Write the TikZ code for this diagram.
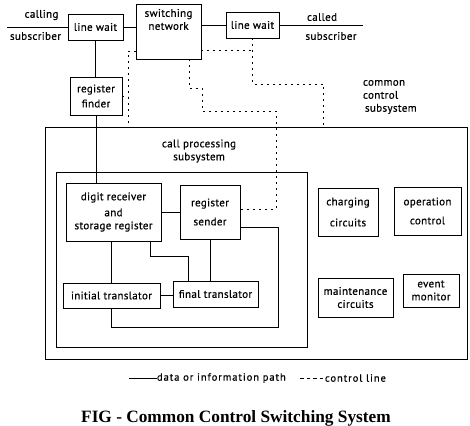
\documentclass[tikz,border=0pt]{standalone}
\usepackage{fontspec}
\setmainfont{PT Sans}
\newfontfamily\dfam{PT Sans}[FakeBold=0.6, LetterSpace=3]
\newfontfamily\lfam{PT Sans}[FakeBold=0.6, LetterSpace=9]
\newfontfamily\titlefont{Liberation Serif}
\usetikzlibrary{
  calc,
  positioning,
}
\newcommand{\dfont}{\dfam\fontsize{11}{13}\selectfont}
\newcommand{\lfont}{\lfam\fontsize{10.5}{12}\selectfont}
\tikzset{
  n/.style={
    draw, line width=0.9pt, inner sep=0pt, outer sep=0pt,
    align=center, font=\dfont,
  },
  t/.style={inner sep=0pt, outer sep=0pt, font=\dfont},
  ctl/.style={dash pattern=on 2pt off 4pt, line width=0.9pt},
}

\begin{document}
\begin{tikzpicture}[x=1pt, y=-1pt, line width=0.8pt]
  \useasboundingbox (0,0) rectangle (470,425);
  % subscriber lines and switching network
  \node[n, minimum width=55, minimum height=26](lwA) at (95.5,27){line wait};
  \node[n, minimum width=65, minimum height=55](SN) at (168.5,31.5){};
  \node[t, align=center, below=5pt of SN.north](SNt){switching\\network};
  \node[n, minimum width=53, minimum height=26](lwB) at (252.5,25){line wait};
  \node[t](cgA) at (41.5,15){calling};
  \node[t](cgB) at (35.5,36){subscriber};
  \node[t](cdA) at (322,17){called};
  \node[t](cdB) at (331,36){subscriber};
  \coordinate (inA) at (7,27);
  \coordinate (inB) at (363,25);
  \node[n, minimum width=52, minimum height=38](RF) at (96,96){register\\[2pt]finder};
  %% common control
  \node[n, minimum width=422, minimum height=232](CCS) at (256,243){};
  \node[n, minimum width=251, minimum height=175](CPS) at (181.5,259.5){};
  \node[t, anchor=west, align=left](CCSt) at (363,97){common\\control\\\hspace{2pt}subsystem};
  \node[t, align=center](CPSt) at (199,151){call processing\\subsystem};
  \node[n, minimum width=95, minimum height=58](DR) at (113.5,212)
    {digit receiver\\[3pt]and\\storage register};
  \node[n, minimum width=60, minimum height=54](RS) at (210,212){register\\[6pt]sender};
  \node[n, minimum width=97, minimum height=25](IT) at (111.5,295.5){initial translator};
  \node[n, minimum width=85, minimum height=26](FT) at (215.5,294){final translator};
  \node[n, minimum width=60, minimum height=48](CC) at (348,212){charging\\[8pt]circuits};
  \node[n, minimum width=67, minimum height=48](OC) at (427.5,211){operation\\[6pt]control};
  \node[n, minimum width=75, minimum height=39](MC) at (355.5,297.5){maintenance\\circuits};
  \node[n, minimum width=56, minimum height=33](EM) at (431,290.5){event\\monitor};
  %% data paths
  \draw (inA) -- (lwA.west);
  \draw (lwA.east) -- (lwA.east -| SN.west);
  \draw (lwB.west -| SN.east) -- (lwB.west);
  \draw (lwB.east) -- (inB);
  \draw (lwA.south) -- (lwA.south |- RF.north);
  \draw (RF.south) -- (RF.south |- DR.north);
  \draw (DR.east |- RS.west) -- (RS.west);
  \draw (IT.north |- DR.south) -- (IT.north);
  \draw ($(DR.south east)+(-11,0)$) -- ++(0,15) -| ($(FT.north west)+(15,0)$);
  \draw (RS.south) -- (RS.south |- FT.north);
  \draw ($(RS.east)+(0,15)$) -- ++(38,0) |- ($(IT.south)+(0,19)$) -- (IT.south);
  \draw (IT.east) -- (IT.east -| FT.west);
  %% control lines
  \coordinate (d1) at ($(SN.north west)+(-8,47)$);
  \coordinate (d2) at ($(SN.north east)+(0,46)$);
  \draw[ctl] ($(SN.north west)+(0,47)$) -- (d1) -- (d1 |- CCS.north);
  \draw[ctl] (RF.east) -- (RF.east -| d1);
  \draw[ctl] ($(SN.south)+(20.5,0)$) -- ++(0,29) -- ++(13,0) -- ++(0,23) -- ++(74,0)
    |- ($(RS.east)+(0,-3)$);
  \draw[ctl] (d2) -- (d2 -| lwB.south);
  \draw[ctl] (lwB.south) -- ++(0,46) -- ++(71,0) coordinate (d3) -- (d3 |- CCS.north);
  %% legend and title
  \coordinate (lgA) at (129,378);
  \node[t, anchor=west, font=\lfont](lgD) at (157,378){data or information path};
  \coordinate (lgB) at (300,378);
  \node[t, anchor=west, font=\lfont](lgC) at (325,378){control line};
  \draw (lgA) -- (lgD.west);
  \draw[ctl, dash pattern=on 3.5pt off 3pt] (lgB) -- (lgC.west);
  \node[font=\titlefont\bfseries\fontsize{17.3}{19}\selectfont](title) at (236,418)
    {FIG - Common Control Switching System};
\end{tikzpicture}
\end{document}
